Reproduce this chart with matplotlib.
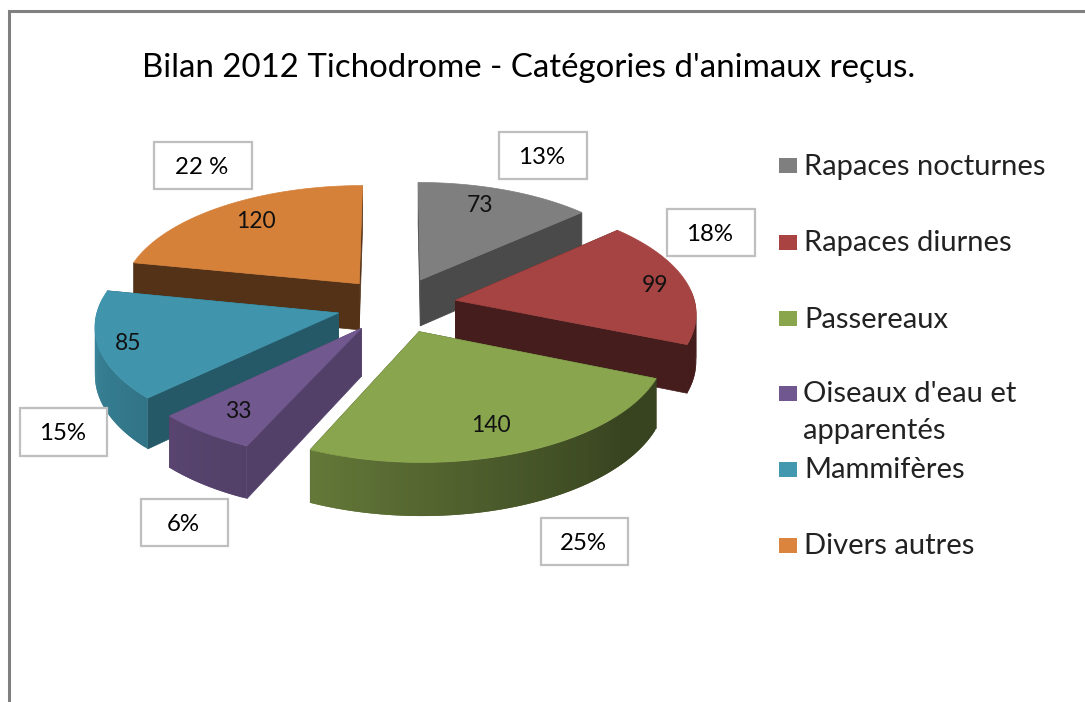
import matplotlib
matplotlib.use('Agg')
import matplotlib.pyplot as plt
import numpy as np

plt.rcParams['font.family'] = ['Lato', 'DejaVu Sans']

title = "Bilan 2012 Tichodrome - Catégories d'animaux reçus."
categories = ['Rapaces nocturnes', 'Rapaces diurnes', 'Passereaux',
              "Oiseaux d'eau et\napparentés", 'Mammifères', 'Divers autres']
values = [73, 99, 140, 33, 85, 120]
percent_labels = ['13%', '18%', '25%', '6%', '15%', '22 %']

# styling / layout, all in pixels of the 1085x702 picture
top_colors = ['#7f7f7f', '#a54442', '#89a54e', '#71588f', '#4095ad', '#d6813a']
legend_colors = ['#7f7f7f', '#a94341', '#8aa64c', '#71578f', '#4198af', '#db843d']
radial_shade = [0.58, 0.42, 0.42, 0.73, 0.60, 0.39]
draw_order = [0, 5, 1, 4, 3, 2]
value_pos = [(480, 206), (655, 285), (491, 425), (238, 412), (128, 343), (256, 221)]
box_pos = [(499, 132, 88, 47), (667, 209, 88, 47), (541, 518, 87, 47),
           (141, 499, 87, 47), (20, 408, 87, 48), (154, 142, 98, 47)]
legend_y = [165.5, 242.5, 318.5, 393.5, 469, 545]

cx, cy = 396.5, 305
rx, ry = 240, 112
explode = 0.25
persp = 0.1
depth = 47


def project(xw, yw, down=0.0):
    s = 1 / (1 + persp * yw)
    return cx + rx * xw * s, cy - ry * yw * s + down * s


def side_shade(deg):
    return np.interp(deg, [90, 130, 165, 204, 226, 281], [0.41, 0.41, 0.55, 0.73, 0.78, 0.92])


def darker(color, f):
    return tuple(c * f for c in matplotlib.colors.to_rgb(color))


fig = plt.figure(figsize=(10.85, 7.02), dpi=100)
ax = fig.add_axes([0, 0, 1, 1])
ax.set_xlim(0, 1085)
ax.set_ylim(702, 0)
ax.axis('off')

# frame of the pasted chart
ax.plot([8.5, 8.5, 1085], [702, 10.5, 10.5], color='#808080', lw=2.2, solid_joinstyle='miter')

ax.text(142, 68, title, fontsize=23.8, color='black', va='center', ha='left')

edges = np.cumsum([0] + values) / sum(values) * 360

for order, i in enumerate(draw_order):
    z = 2 + order
    start, end = edges[i], edges[i + 1]
    mid = np.radians((start + end) / 2)
    ox, oy = explode * np.sin(mid), explode * np.cos(mid)
    deg = np.arange(start, end + 0.5, 1.0)
    deg[-1] = end
    a = np.radians(deg)
    xw = ox + np.sin(a)
    yw = oy + np.cos(a)

    # the two cut faces go first, the outer wall covers what sticks out
    ax_, ay_ = project(ox, oy)
    bx_, by_ = project(ox, oy, depth)
    for j in (0, -1):
        ex, ey = project(xw[j], yw[j])
        fx, fy = project(xw[j], yw[j], depth)
        ax.fill([ax_, ex, fx, bx_], [ay_, ey, fy, by_],
                color=darker(top_colors[i], radial_shade[i]), lw=0.5, zorder=z)

    # outer wall, quads overlap the next one so no seams show
    for k in range(len(a) - 1):
        if not 84 < deg[k] < 276:
            continue
        stop = min(k + 3, len(a))
        x1, y1 = project(xw[k:stop], yw[k:stop])
        x2, y2 = project(xw[k:stop], yw[k:stop], depth)
        col = darker(top_colors[i], side_shade((deg[k] + deg[k + 1]) / 2))
        ax.fill(np.r_[x1, x2[::-1]], np.r_[y1, y2[::-1]], facecolor=col, edgecolor='none',
                lw=0, zorder=z)

    # top of the slice
    tx, ty = project(xw, yw)
    ax.fill(np.r_[ax_, tx], np.r_[ay_, ty], color=top_colors[i], lw=0.5, zorder=z)

for i in range(len(values)):
    ax.text(value_pos[i][0], value_pos[i][1], str(values[i]), fontsize=16.5, color='#111111',
            ha='center', va='center', zorder=20)
    bx, by, bw, bh = box_pos[i]
    ax.add_patch(plt.Rectangle((bx, by), bw, bh, facecolor='white', edgecolor='#bfbfbf',
                               lw=1.6, zorder=15))
    ax.text(bx + bw / 2 - 1, by + bh / 2 + 2, percent_labels[i], fontsize=17.3, color='black',
            ha='center', va='center', zorder=20)

    ax.add_patch(plt.Rectangle((779, legend_y[i] - 7.5), 18, 15, facecolor=legend_colors[i],
                               edgecolor='none', zorder=15))
    if '\n' in categories[i]:
        line1, line2 = categories[i].split('\n')
        ax.text(803, legend_y[i] + 1, line1, fontsize=21, color='#222222', va='center', ha='left')
        ax.text(803, legend_y[i] + 38, line2, fontsize=21, color='#222222', va='center', ha='left')
    else:
        ax.text(804, legend_y[i] + 1, categories[i], fontsize=21, color='#222222', va='center', ha='left')

fig.savefig('out.png', dpi=100)
